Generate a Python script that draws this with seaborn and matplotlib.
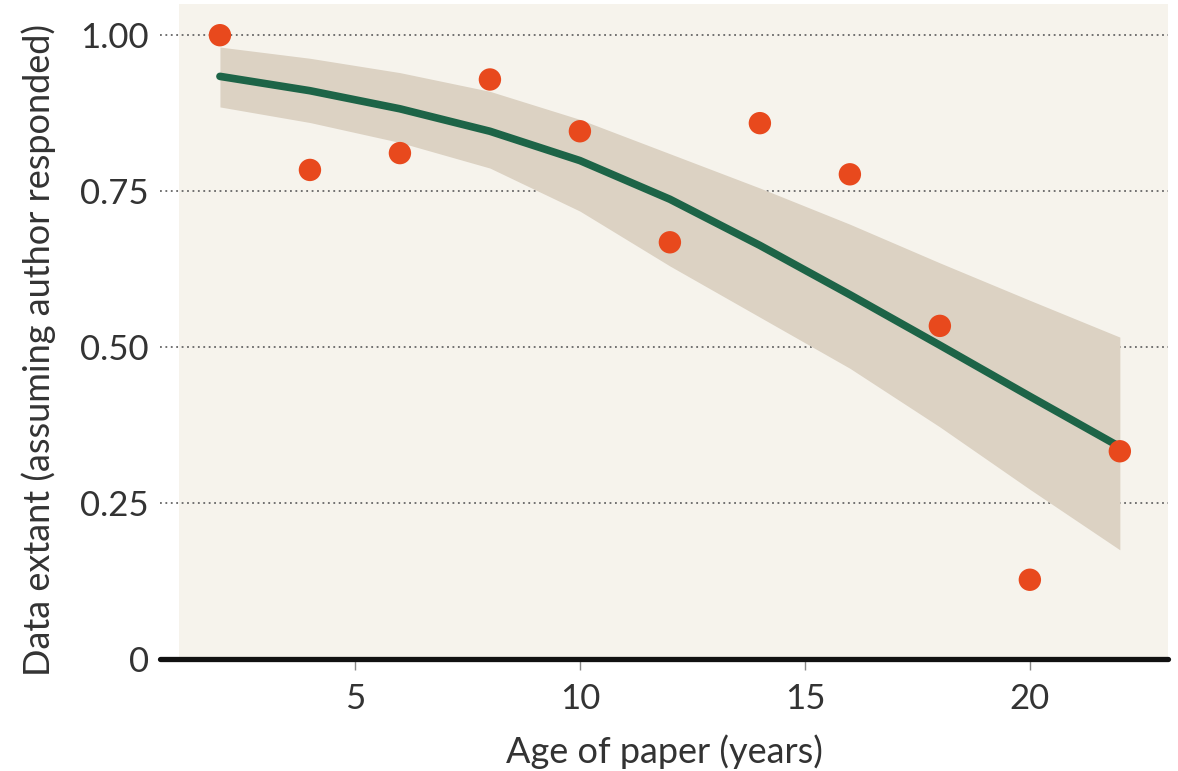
import numpy as np
import pandas as pd
import matplotlib
matplotlib.use("Agg")
import matplotlib.pyplot as plt
import seaborn as sns

# observed points
age = [2, 4, 6, 8, 10, 12, 14, 16, 18, 20, 22]
extant = [1.00, 0.784, 0.811, 0.929, 0.846, 0.668, 0.859, 0.777, 0.534, 0.127, 0.333]

# fitted curve and confidence band
fit_age = [2, 4, 6, 8, 10, 12, 14, 16, 18, 20, 22]
fit_mid = [0.934, 0.911, 0.882, 0.846, 0.799, 0.737, 0.663, 0.584, 0.503, 0.421, 0.340]
fit_lo = [0.885, 0.860, 0.828, 0.787, 0.718, 0.630, 0.548, 0.466, 0.372, 0.272, 0.175]
fit_hi = [0.981, 0.963, 0.940, 0.910, 0.865, 0.810, 0.755, 0.697, 0.635, 0.575, 0.516]

yticks = [0, 0.25, 0.5, 0.75, 1.0]
ytick_labels = ["0", "0.25", "0.50", "0.75", "1.00"]
xticks = [5, 10, 15, 20]

sns.set_theme(style="white")
plt.rcParams['font.family'] = ['Lato', 'DejaVu Sans']

fig = plt.figure(figsize=(11.78, 7.71), dpi=100)
fig.patch.set_facecolor("white")
ax = fig.add_axes([0.1358, 0.1453, 0.8557, 0.8495])
ax.set_facecolor("white")
ax.axvspan(1.1, 23.07, color="#f6f3ec", linewidth=0, zorder=0)

pts = pd.DataFrame({"age": age, "extant": extant})
fit = pd.DataFrame({"age": fit_age, "mid": fit_mid, "lo": fit_lo, "hi": fit_hi})

for y in yticks[1:]:
    ax.axhline(y, color="#666666", linestyle=(0, (1, 2)), linewidth=1.3, zorder=1)

ax.fill_between(fit["age"], fit["lo"], fit["hi"], color="#dcd2c3", linewidth=0, zorder=2)
sns.lineplot(data=fit, x="age", y="mid", ax=ax, color="#1d6447", linewidth=5.5,
             solid_capstyle="round", zorder=3)
sns.scatterplot(data=pts, x="age", y="extant", ax=ax, color="#e8491d", s=260,
                edgecolor="none", zorder=4, clip_on=False)

ax.axhline(0, color="#111111", linewidth=3.8, zorder=5, clip_on=False)

ax.set_xlim(0.667, 23.07)
ax.set_ylim(0, 1.05)
ax.set_xticks(xticks)
ax.set_xticklabels([str(t) for t in xticks])
ax.set_yticks(yticks)
ax.set_yticklabels(ytick_labels)

for s in ax.spines.values():
    s.set_visible(False)

ax.tick_params(axis="x", which="both", bottom=True, length=8, width=1, color="#888888",
               labelsize=25, pad=9, labelcolor="#333333", direction="out")
ax.tick_params(axis="y", which="both", left=False, labelsize=25, pad=2, labelcolor="#333333")

ax.set_xlabel("Age of paper (years)", fontsize=26, color="#333333", labelpad=14)
ax.set_ylabel("Data extant (assuming author responded)", fontsize=26, color="#333333")
ax.yaxis.set_label_coords(-0.103, 0.472)

fig.savefig("out.png", dpi=100, facecolor="white")
